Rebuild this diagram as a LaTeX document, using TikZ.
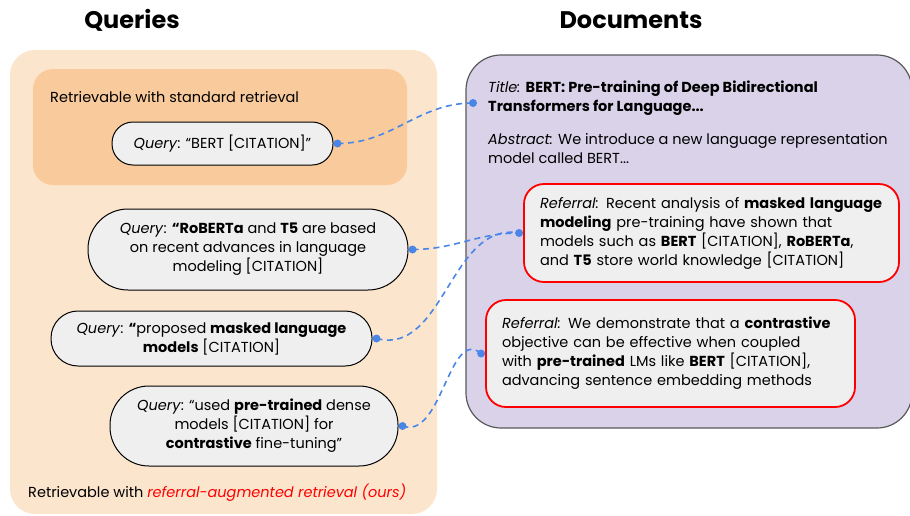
\documentclass[tikz,border=0pt]{standalone}
\usepackage{fontspec}
\setmainfont{Poppins}
\usetikzlibrary{calc}

\definecolor{peach}{HTML}{FCE5CD}
\definecolor{apricot}{HTML}{F9CB9C}
\definecolor{pillgray}{HTML}{EFEFEF}
\definecolor{lavender}{HTML}{D9D2E9}
\definecolor{docgray}{HTML}{595959}
\definecolor{refred}{HTML}{FF0000}
\definecolor{linkblue}{HTML}{4A86E8}

\tikzset{
  body/.style={font=\fontsize{14.5}{19}\selectfont},
  pill/.style={body, draw, fill=pillgray, line width=1pt, align=center, inner sep=0pt},
  referral/.style={body, draw=refred, fill=pillgray, line width=1.8pt, rounded corners=20pt,
    align=left, inner xsep=16pt, inner ysep=0pt},
  link/.style={draw=linkblue, line width=1.6pt, dash pattern=on 6pt off 4.5pt},
  heading/.style={font=\fontsize{24}{28}\selectfont\bfseries, anchor=base},
}

\begin{document}
\begin{tikzpicture}[x=1pt,y=-1pt]
\useasboundingbox (0,0) rectangle (910,515);

% column headings
\node[heading] (qhead) at (132,28) {Queries};
\node[heading] (dhead) at (631,28) {Documents};

% query side
\fill[peach, rounded corners=25pt] (10,50) rectangle (437,514);
\fill[apricot, rounded corners=20pt] (33,69) rectangle (407,185);
\node[body, anchor=base west, inner sep=0pt] (stdlabel) at (50,102) {Retrievable with standard retrieval};
\node[body, anchor=base west, inner sep=0pt] (ourlabel) at (28,497)
  {Retrievable with \textcolor{refred}{\itshape referral-augmented retrieval (ours)}};

\node[pill, minimum width=221, minimum height=43, rounded corners=21pt] (q1) at (222.5,143.5)
  {\textit{Query}: “BERT [CITATION]”};
\node[pill, minimum width=320, minimum height=81, rounded corners=40pt] (q2) at (248,249.5)
  {\textit{Query}: \textbf{“RoBERTa} and \textbf{T5} are based\\on recent advances in language\\modeling [CITATION]};
\node[pill, minimum width=321, minimum height=55, rounded corners=27pt] (q3) at (211.5,338.5)
  {\textit{Query}: \textbf{“}proposed \textbf{masked language}\\\textbf{models} [CITATION]};
\node[pill, minimum width=288, minimum height=80, rounded corners=39pt] (q4) at (254,426)
  {\textit{Query}: “used \textbf{pre-trained} dense\\models [CITATION] for\\\textbf{contrastive} fine-tuning”};

% document side
\draw[docgray, fill=lavender, line width=1.2pt, rounded corners=35pt] (466,55) rectangle (912,428);
\node[body, anchor=base west, align=left, inner sep=0pt] (title) at (488,111)
  {\textit{Title:} \textbf{BERT: Pre-training of Deep Bidirectional}\\\textbf{Transformers for Language...}};
\node[body, anchor=base west, align=left, inner sep=0pt] (abstract) at (488,163)
  {\textit{Abstract:} We introduce a new language representation\\model called BERT...};

\node[referral, text width=343, minimum height=98] (ref1) at (711.5,233)
  {\textit{Referral:} Recent analysis of \textbf{masked language}\\\textbf{modeling} pre-training have shown that\\models such as \textbf{BERT} [CITATION], \textbf{RoBERTa},\\and \textbf{T5} store world knowledge [CITATION]};
\node[referral, text width=337, minimum height=107] (ref2) at (670.5,353.5)
  {\textit{Referral:} We demonstrate that a \textbf{contrastive}\\objective can be effective when coupled\\with \textbf{pre-trained} LMs like \textbf{BERT} [CITATION],\\advancing sentence embedding methods};

% connectors
\coordinate (q1e) at ([xshift=4pt]q1.east);
\coordinate (q2e) at ([xshift=4pt]q2.east);
\coordinate (q3e) at ([xshift=4pt]q3.east);
\coordinate (q4e) at ([xshift=4pt]q4.east);
\coordinate (tdot) at (473,103);
\coordinate (r1w) at ([xshift=-4pt]ref1.west);
\coordinate (r2w) at ([xshift=-4pt]ref2.west);

\draw[link] (q1e) to[out=0,in=180] (tdot);
\draw[link] (q2e) to[out=0,in=180] (r1w);
\draw[link] (q3e) to[out=-15,in=170] (r1w);
\draw[link] (q4e) to[out=-20,in=140] (r2w);
\foreach \p in {q1e,q2e,q3e,q4e,tdot,r1w,r2w} {\fill[linkblue] (\p) circle (4);}
\end{tikzpicture}
\end{document}
